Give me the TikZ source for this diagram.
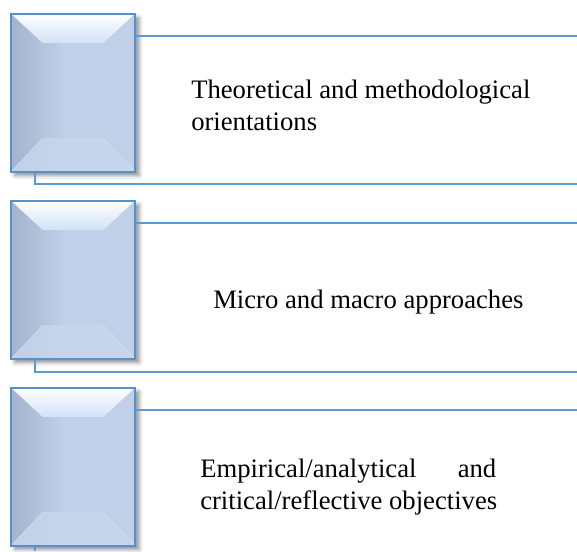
\documentclass[tikz,border=0pt]{standalone}
\usepackage{fontspec}
\setmainfont{Liberation Serif}
\usetikzlibrary{shadows.blur}
\definecolor{boxline}{RGB}{84,146,206}
\definecolor{linkblue}{RGB}{91,155,213}
\definecolor{boxface}{RGB}{192,208,232}
\definecolor{boxdark}{RGB}{163,179,206}
\definecolor{boxtop}{RGB}{210,226,247}
\definecolor{boxbottom}{RGB}{200,215,237}
\tikzset{
  bevelbox/.style={draw=boxline,line width=1.5pt,minimum width=93pt,minimum height=118.5pt,inner sep=0pt,
    fill=boxface,
    blur shadow={shadow xshift=3pt,shadow yshift=-3pt,shadow blur radius=3pt,shadow opacity=45},
    path picture={
      \coordinate (pnw) at (path picture bounding box.north west);
      \coordinate (pne) at (path picture bounding box.north east);
      \coordinate (psw) at (path picture bounding box.south west);
      \coordinate (pse) at (path picture bounding box.south east);
      \coordinate (inw) at ([shift={(24pt,-22pt)}]pnw);
      \coordinate (ine) at ([shift={(-24pt,-22pt)}]pne);
      \coordinate (isw) at ([shift={(24pt,25pt)}]psw);
      \coordinate (ise) at ([shift={(-24pt,25pt)}]pse);
      \fill[left color=boxdark,right color=boxface] (pnw) rectangle ([xshift=40pt]psw);
      \fill[top color=white,bottom color=boxtop] (pnw) -- (pne) -- (ine) -- (inw) -- cycle;
      \fill[boxbottom,opacity=.8] (psw) -- (pse) -- (ise) -- (isw) -- cycle;
      \draw[white,opacity=.35,line width=.4pt] (pnw) -- (inw) (pne) -- (ine) (psw) -- (isw) (pse) -- (ise);
    }},
  link/.style={linkblue,line width=1.5pt},
  lbl/.style={inner sep=0pt,align=flush left,text width=280pt}
}
\begin{document}
\begin{tikzpicture}[x=0.75pt,y=-0.75pt,font=\fontsize{20}{24.5}\selectfont]
\useasboundingbox (0,0) rectangle (577,551);
% boxes
\node[bevelbox] (box1) at (73,92.5) {};
\node[bevelbox] (box2) at (73,279.5) {};
\node[bevelbox] (box3) at (73,466.5) {};
% end points of the lines
\coordinate (t1) at (577,36);
\coordinate (t2) at (577,223);
\coordinate (t3) at (577,410);
\coordinate (k1) at (35,184);
\coordinate (k2) at (35,372);
\coordinate (k3) at (35,551);
\coordinate (b1) at (577,184);
\coordinate (b2) at (577,372);
% lines
\draw[link] (box1.east |- t1) -- (t1);
\draw[link] (box2.east |- t2) -- (t2);
\draw[link] (box3.east |- t3) -- (t3);
\draw[link] (box1.south -| k1) -- (k1) -- (b1);
\draw[link] (box2.south -| k2) -- (k2) -- (b2);
\draw[link] (box3.south -| k3) -- (k3);
% texts
\node[lbl,anchor=base west] (txt1) at (191,98) {Theoretical and methodological\\orientations};
\node[lbl,anchor=base west] (txt2) at (213,308) {Micro and macro approaches};
\node[lbl,anchor=base west] (txt3) at (200,477) {\hbox to 222pt{Empirical/analytical\hfill and}\\critical/reflective objectives};
\end{tikzpicture}
\end{document}
